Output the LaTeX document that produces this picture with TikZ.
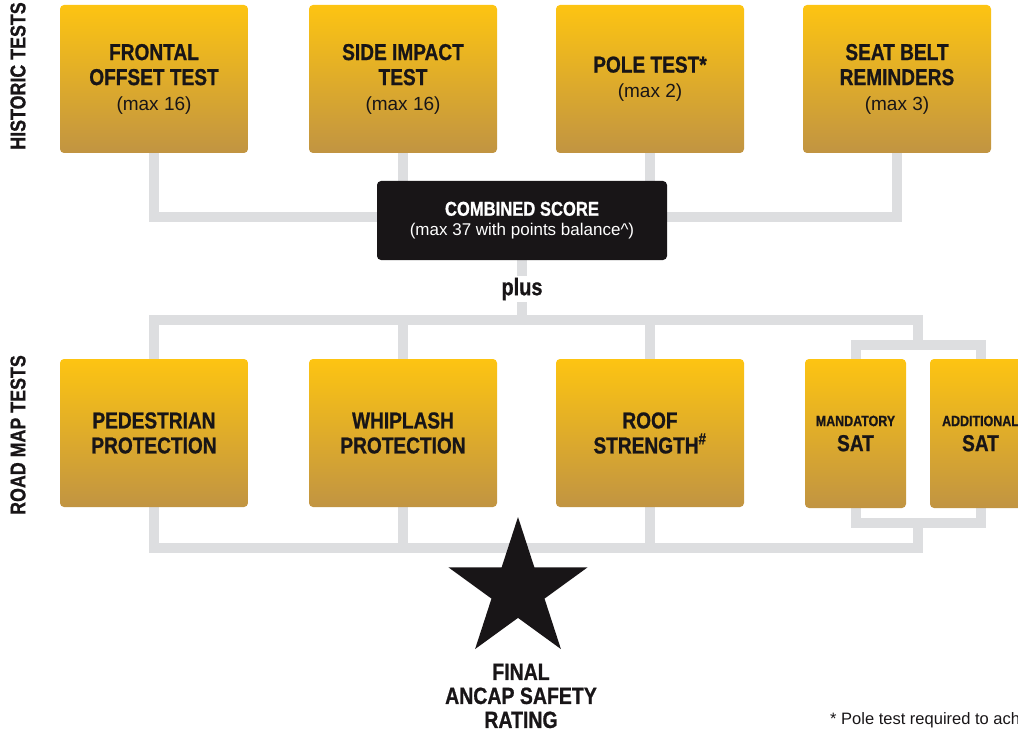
\documentclass[tikz,border=0pt]{standalone}
\usepackage{fontspec}
\setmainfont{Liberation Sans}
\newfontfamily\cond[FakeStretch=0.83,BoldFeatures={FakeBold=0.8}]{Liberation Sans}
\usetikzlibrary{positioning,backgrounds,shapes.geometric}
\definecolor{goldtop}{RGB}{253,196,18}
\definecolor{goldbot}{RGB}{193,148,66}
\definecolor{ink}{RGB}{24,21,23}
\definecolor{rail}{RGB}{221,222,224}
\newcommand\hd{\cond\bfseries\fontsize{23}{25}\selectfont}
\newcommand\mx{\normalfont\fontsize{19}{25}\selectfont}
\tikzset{
  test/.style  ={rounded corners=4pt,minimum width=188pt,minimum height=148pt,top color=goldtop,
                 bottom color=goldbot,align=center,text=ink,inner sep=0pt,font=\hd},
  sat/.style   ={test,minimum width=101pt,minimum height=149pt},
  score/.style ={rounded corners=4pt,fill=ink,text=white,minimum width=290pt,minimum height=79pt,
                 align=center,inner sep=0pt,font=\fontsize{17}{20}\selectfont},
  link/.style  ={draw=rail,line width=10pt},
  side/.style  ={rotate=90,text=ink,font=\cond\bfseries\fontsize{21.5}{24}\selectfont},
  lbl/.style   ={text=ink,align=center,font=\cond\bfseries\fontsize{23.5}{24}\selectfont},
  note/.style  ={text=ink,font=\fontsize{16.5}{20}\selectfont,inner sep=0pt},
}

\begin{document}
\begin{tikzpicture}[x=1pt,y=-1pt]
  \useasboundingbox (0,0) rectangle (1018,733);
  \clip (0,0) rectangle (1018,733);

  \node[side] (hist) at (18,76) {HISTORIC TESTS};
  \node[side] (road) at (18,435) {ROAD MAP TESTS};

  % historic tests
  \node[test] (front) at (154,79) {FRONTAL\\OFFSET TEST\\\mx (max 16)};
  \node[test] (sideimp) at (403,79) {SIDE IMPACT\\TEST\\\mx (max 16)};
  \node[test] (pole) at (650,79) {POLE TEST*\\\mx (max 2)};
  \node[test] (seat) at (897,79) {SEAT BELT\\REMINDERS\\\mx (max 3)};

  \node[score] (comb) at (522,220.5)
    {\cond\bfseries\fontsize{20}{20}\selectfont COMBINED SCORE\\
     \normalfont\fontsize{17}{20}\selectfont (max 37 with points balance\^{})};
  \node[lbl,fill=white,inner sep=2pt,font=\cond\bfseries\fontsize{24}{24}\selectfont] (plus) at (522,289) {plus};

  % road map tests
  \node[test] (ped) at (154,433) {PEDESTRIAN\\PROTECTION};
  \node[test] (whip) at (403,433) {WHIPLASH\\PROTECTION};
  \node[test] (roof) at (650,433) {ROOF\\STRENGTH\textsuperscript{\#}};
  \node[sat] (mand) at (855.5,433.5) {\fontsize{15}{24}\selectfont MANDATORY\\\fontsize{23}{24}\selectfont SAT};
  \node[sat] (addl) at (980.5,433.5) {\fontsize{15}{24}\selectfont ADDITIONAL\\\fontsize{23}{24}\selectfont SAT};

  \node[star,star points=5,star point ratio=2.618,minimum size=146pt,fill=ink,inner sep=0pt] (final) at (518,590) {};
  \node[lbl] (finaltxt) at (521,696) {FINAL\\ANCAP SAFETY\\RATING};

  \node[note,anchor=base west] (fn) at (830,724) {* Pole test required to ach};

  \coordinate (topbar) at (522,217);
  \coordinate (roadbar) at (522,320);
  \coordinate (sattop) at (918,345);
  \coordinate (satbot) at (918,523);
  \coordinate (botbar) at (918,548);

  \begin{pgfonlayer}{background}
    \draw[link] (front) |- (topbar) -| (seat);
    \draw[link] (sideimp) -- (sideimp |- topbar);
    \draw[link] (pole) -- (pole |- topbar);
    \draw[link] (comb) -- (roadbar);
    \draw[link] (ped) |- (roadbar) -| (sattop);
    \draw[link] (whip) -- (whip |- roadbar);
    \draw[link] (roof) -- (roof |- roadbar);
    \draw[link] (mand) |- (sattop) -| (addl);
    \draw[link] (mand) |- (satbot) -| (addl);
    \draw[link] (satbot) -- (botbar) -| (ped);
    \draw[link] (whip) -- (whip |- botbar);
    \draw[link] (roof) -- (roof |- botbar);
  \end{pgfonlayer}
\end{tikzpicture}
\end{document}
